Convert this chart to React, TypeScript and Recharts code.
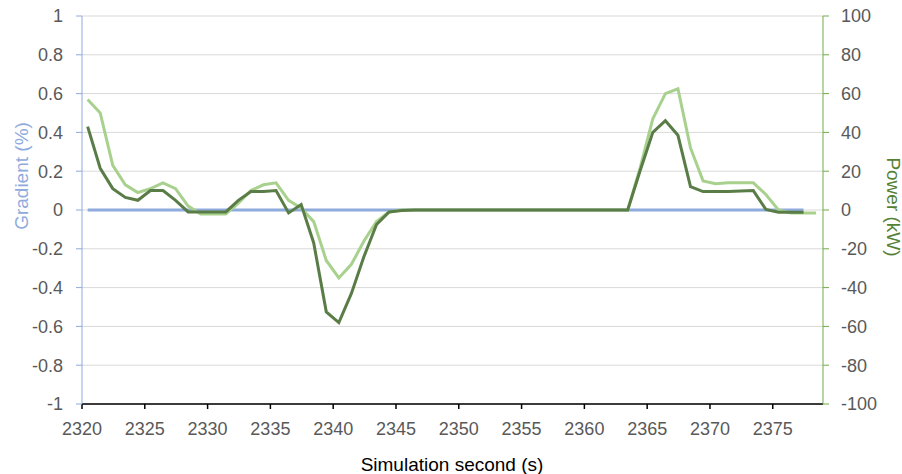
import { CartesianGrid, Line, LineChart, XAxis, YAxis } from 'recharts';

// sample times (s), one per second, slightly offset from whole seconds
const times = [
  2320.45, 2321.45, 2322.45, 2323.45, 2324.45, 2325.45, 2326.45, 2327.45, 2328.45, 2329.45,
  2330.45, 2331.45, 2332.45, 2333.45, 2334.45, 2335.45, 2336.45, 2337.45, 2338.45, 2339.45,
  2340.45, 2341.45, 2342.45, 2343.45, 2344.45, 2345.45, 2346.45, 2347.45, 2348.45, 2349.45,
  2350.45, 2351.45, 2352.45, 2353.45, 2354.45, 2355.45, 2356.45, 2357.45, 2358.45, 2359.45,
  2360.45, 2361.45, 2362.45, 2363.45, 2364.45, 2365.45, 2366.45, 2367.45, 2368.45, 2369.45,
  2370.45, 2371.45, 2372.45, 2373.45, 2374.45, 2375.45, 2376.45, 2377.45, 2378.45,
];

// road gradient (%), left axis
const gradient = [
  0, 0, 0, 0, 0, 0, 0, 0, 0, 0,
  0, 0, 0, 0, 0, 0, 0, 0, 0, 0,
  0, 0, 0, 0, 0, 0, 0, 0, 0, 0,
  0, 0, 0, 0, 0, 0, 0, 0, 0, 0,
  0, 0, 0, 0, 0, 0, 0, 0, 0, 0,
  0, 0, 0, 0, 0, 0, 0, 0,
];

// light green power trace (kW), right axis
const powerA = [
  57, 50, 23, 13, 9, 11, 14, 11, 2, -2,
  -2, -2, 3.5, 10, 13, 14, 5, 1, -6, -26,
  -35, -28, -16, -6, -1, 0, 0, 0, 0, 0,
  0, 0, 0, 0, 0, 0, 0, 0, 0, 0,
  0, 0, 0, 0, 22, 47, 60, 62.5, 32, 15,
  13.5, 14, 14, 14, 8, 0, -1.5, -1.5, -1.5,
];

// dark green power trace (kW), right axis
const powerB = [
  43, 21.5, 11, 6.5, 5, 10, 10, 5, -1, -1,
  -1, -1, 5, 9.5, 9.5, 10, -1.5, 2.8, -17, -52.5,
  -58, -43, -24, -7.5, -1, -0.3, 0, 0, 0, 0,
  0, 0, 0, 0, 0, 0, 0, 0, 0, 0,
  0, 0, 0, 0, 20.5, 40, 46, 38.5, 12, 9.5,
  9.5, 9.5, 9.8, 10, 0.3, -1.2, -1.2, -1.2,
];

const xTicks = [2320, 2325, 2330, 2335, 2340, 2345, 2350, 2355, 2360, 2365, 2370, 2375];
const leftTicks = [-1, -0.8, -0.6, -0.4, -0.2, 0, 0.2, 0.4, 0.6, 0.8, 1];
const rightTicks = [-100, -80, -60, -40, -20, 0, 20, 40, 60, 80, 100];

const rows = times.map((t, i) => ({
  t,
  gradient: gradient[i] ?? null,
  powerA: powerA[i] ?? null,
  powerB: powerB[i] ?? null,
}));

const TICK_FONT = { fill: '#595959', fontSize: 18 };

const fmtLeft = (v: number) => String(Number(v.toFixed(1)));

type TitleProps = { x: number; y: number; angle: number; fill: string; text: string };

const AxisTitle = ({ x, y, angle, fill, text }: TitleProps) => (
  <text
    x={x}
    y={y}
    textAnchor="middle"
    dominantBaseline="central"
    fill={fill}
    fontSize={19}
    transform={angle ? `rotate(${angle} ${x} ${y})` : undefined}
  >
    {text}
  </text>
);

export default function App() {
  return (
    <div style={{ position: 'absolute', left: 0, top: 0, width: 902, height: 474, background: '#fff', fontFamily: '"Liberation Sans", Arial, sans-serif' }}>
      <LineChart width={902} height={474} data={rows} margin={{ top: 16, right: 0, bottom: 0, left: 0 }}>
        <CartesianGrid yAxisId="left" vertical={false} stroke="#d9d9d9" strokeWidth={1} />
        <XAxis
          dataKey="t"
          type="number"
          domain={[2320, 2379]}
          ticks={xTicks}
          interval={0}
          allowDataOverflow
          height={70}
          tickSize={5}
          tickMargin={13}
          tick={TICK_FONT}
          axisLine={{ stroke: '#000', strokeWidth: 1.5 }}
          tickLine={{ stroke: '#000', strokeWidth: 1.5 }}
          label={{ content: () => <AxisTitle x={452} y={464} angle={0} fill="#000" text="Simulation second (s)" /> }}
        />
        <YAxis
          yAxisId="left"
          domain={[-1, 1]}
          ticks={leftTicks}
          interval={0}
          width={82}
          tickSize={6}
          tickMargin={13}
          tick={TICK_FONT}
          tickFormatter={fmtLeft}
          axisLine={{ stroke: '#8faadc' }}
          tickLine={{ stroke: '#8faadc' }}
          label={{ content: () => <AxisTitle x={21} y={176} angle={-90} fill="#8faadc" text="Gradient (%)" /> }}
        />
        <YAxis
          yAxisId="right"
          orientation="right"
          domain={[-100, 100]}
          ticks={rightTicks}
          interval={0}
          width={79}
          tickSize={6}
          tickMargin={12}
          tick={TICK_FONT}
          axisLine={{ stroke: '#70ad47' }}
          tickLine={{ stroke: '#70ad47' }}
          label={{ content: () => <AxisTitle x={893} y={207} angle={90} fill="#548235" text="Power (kW)" /> }}
        />
        <Line yAxisId="left" dataKey="gradient" stroke="#8faadc" strokeWidth={3} dot={false} isAnimationActive={false} />
        <Line yAxisId="right" dataKey="powerA" stroke="#a9d18e" strokeWidth={3} dot={false} isAnimationActive={false} />
        <Line yAxisId="right" dataKey="powerB" stroke="#5a7d47" strokeWidth={3} dot={false} isAnimationActive={false} />
      </LineChart>
    </div>
  );
}
